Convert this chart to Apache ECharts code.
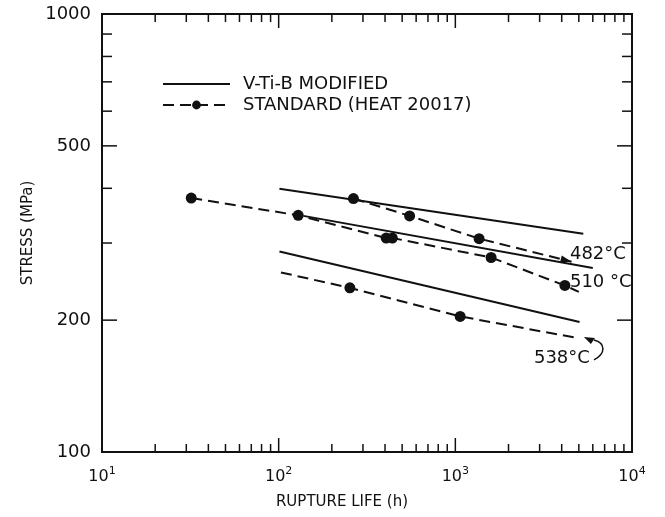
<!DOCTYPE html>
<html lang="en">
<head>
<meta charset="UTF-8">
<title>Stress vs rupture life</title>
<style>
  html, body { margin: 0; padding: 0; background: #fff; }
  #chart { width: 665px; height: 517px; }
</style>
</head>
<body>
<div id="chart"></div>
<script src="https://cdn.jsdelivr.net/npm/echarts@6/dist/echarts.min.js"></script>
<script>
// rupture life (h), stress (MPa)
const mod482 = [[101, 399], [5300, 315]];
const mod510 = [[138, 346], [6000, 263]];
const mod538 = [[101, 287], [5050, 198]];

// standard heat: line ends without a dot are listed in the *Bare arrays
const std482 = [[265, 379], [551, 346], [1363, 307], [4550, 272]];
const std510 = [[32, 380], [129, 347], [406, 308], [440, 308], [1594, 278], [4170, 240], [5000, 232]];
const std538 = [[103, 257], [253, 237], [1065, 204], [4940, 182]];
const std482Bare = [3];
const std510Bare = [6];
const std538Bare = [0, 3];

const tempNames = ['482\u00b0C', '510 \u00b0C', '538\u00b0C'];
const tempAnchors = [[4455, 283], [4455, 244], [2786, 164]];

const xMin = 10, xMax = 10000, yMin = 100, yMax = 1000;
const yLabels = [100, 200, 500, 1000];

const xTicks = [];
for (let k = 10; k < xMax; k *= 10) {
  for (let m = 1; m <= 9; m++) if (m * k > xMin) xTicks.push(m * k);
}
const yTicks = [200, 300, 400, 500, 600, 700, 800, 900];

const FONT = 'DejaVu Sans';
const INK = '#111';

const chart = echarts.init(document.getElementById('chart'), null, { renderer: 'canvas' });

function tickLine(x1, y1, x2, y2) {
  return { type: 'line', shape: { x1, y1, x2, y2 }, style: { stroke: INK, lineWidth: 1.5 } };
}

function renderXTick(params, api) {
  const v = api.value(0);
  const b = api.coord([v, yMin]);
  const t = api.coord([v, yMax]);
  const len = Math.abs(Math.log10(v) - Math.round(Math.log10(v))) < 1e-6 ? 14 : 8;
  return { type: 'group', children: [
    tickLine(b[0], b[1], b[0], b[1] - len),
    tickLine(t[0], t[1], t[0], t[1] + len)
  ] };
}

function renderYTick(params, api) {
  const v = api.value(1);
  const l = api.coord([xMin, v]);
  const r = api.coord([xMax, v]);
  const len = (v === 200 || v === 500) ? 15 : 10;
  return { type: 'group', children: [
    tickLine(l[0], l[1], l[0] + len, l[1]),
    tickLine(r[0], r[1], r[0] - len, r[1])
  ] };
}

function renderYLabel(params, api) {
  const p = api.coord([xMin, api.value(1)]);
  return { type: 'text', style: {
    text: String(api.value(1)), x: p[0] - 11, y: p[1],
    align: 'right', verticalAlign: 'middle', fill: INK, font: '18px "' + FONT + '"'
  } };
}

function renderTemp(params, api) {
  const p = api.coord([api.value(0), api.value(1)]);
  const children = [{ type: 'text', style: {
    text: tempNames[params.dataIndex], x: p[0], y: p[1],
    align: 'left', verticalAlign: 'middle', fill: INK, font: '18px "' + FONT + '"'
  } }];
  if (params.dataIndex === 2) {
    // curved pointer from the 538 label to the end of the dashed line
    const e = api.coord(std538[std538.length - 1]);
    const sx = p[0] + 60, sy = p[1] + 2;
    const tx = e[0] + 6, ty = e[1] - 1;
    children.push({ type: 'bezierCurve', shape: {
      x1: sx, y1: sy, cpx1: sx + 12, cpy1: sy - 6, cpx2: tx + 22, cpy2: ty + 6, x2: tx + 10, y2: ty + 3
    }, style: { stroke: INK, lineWidth: 1.5, fill: null } });
    children.push({ type: 'polygon', shape: { points: [[tx, ty], [tx + 11, ty + 1], [tx + 7, ty + 7]] },
      style: { fill: INK } });
  }
  if (params.dataIndex === 0) {
    const a = api.coord(std482[std482.length - 2]);
    const e = api.coord(std482[std482.length - 1]);
    const ang = Math.atan2(e[1] - a[1], e[0] - a[0]);
    const c = Math.cos(ang), s = Math.sin(ang);
    children.push({ type: 'polygon', shape: { points: [
      [e[0], e[1]],
      [e[0] - 11 * c + 3.5 * s, e[1] - 11 * s - 3.5 * c],
      [e[0] - 11 * c - 3.5 * s, e[1] - 11 * s + 3.5 * c]
    ] }, style: { fill: INK } });
  }
  return { type: 'group', children };
}

function solid(data) {
  return {
    name: 'V-Ti-B MODIFIED', type: 'line', data, symbol: 'none',
    lineStyle: { color: INK, width: 2 }, itemStyle: { color: INK }, z: 3
  };
}

function dashed(data, bare) {
  return {
    name: 'STANDARD (HEAT 20017)', type: 'line', symbol: 'circle', symbolSize: 11,
    data: data.map((d, i) => bare.includes(i) ? { value: d, symbol: 'none' } : d),
    lineStyle: { color: INK, width: 2, type: [11, 6] }, itemStyle: { color: INK }, z: 4
  };
}

const option = {
  animation: false,
  backgroundColor: '#fff',
  textStyle: { fontFamily: FONT, color: INK },
  grid: { left: 102, right: 33, top: 14, bottom: 65, show: true, borderColor: INK, borderWidth: 2 },
  legend: {
    orient: 'vertical', left: 157, top: 70, itemWidth: 67, itemHeight: 11, itemGap: 3,
    data: [
      { name: 'V-Ti-B MODIFIED', itemStyle: { opacity: 0 } },
      { name: 'STANDARD (HEAT 20017)' }
    ],
    textStyle: { fontSize: 18, color: INK, fontFamily: FONT, padding: [0, 0, 0, 8] }
  },
  xAxis: {
    type: 'log', logBase: 10, min: xMin, max: xMax,
    name: 'RUPTURE LIFE (h)', nameLocation: 'middle', nameGap: 43,
    nameTextStyle: { fontSize: 15, color: INK, padding: [0, 50, 0, 0] },
    axisLine: { show: false }, axisTick: { show: false }, splitLine: { show: false },
    axisLabel: {
      margin: 14, color: INK,
      formatter: v => '{b|10}{s|' + Math.round(Math.log10(v)) + '}',
      rich: {
        b: { fontSize: 16, fontFamily: FONT, color: INK },
        s: { fontSize: 11, fontFamily: FONT, color: INK, padding: [0, 0, 10, 0] }
      }
    }
  },
  yAxis: {
    type: 'log', logBase: 10, min: yMin, max: yMax,
    name: 'STRESS (MPa)', nameLocation: 'middle', nameGap: 66,
    nameTextStyle: { fontSize: 15, color: INK },
    axisLine: { show: false }, axisTick: { show: false }, splitLine: { show: false },
    axisLabel: { show: false }
  },
  series: [
    solid(mod482), solid(mod510), solid(mod538),
    dashed(std482, std482Bare), dashed(std510, std510Bare), dashed(std538, std538Bare),
    { type: 'custom', renderItem: renderXTick, data: xTicks.map(v => [v, yMin]), silent: true, z: 1 },
    { type: 'custom', renderItem: renderYTick, data: yTicks.map(v => [xMin, v]), silent: true, z: 1 },
    { type: 'custom', renderItem: renderYLabel, data: yLabels.map(v => [xMin, v]), silent: true, z: 1 },
    { type: 'custom', renderItem: renderTemp, data: tempAnchors, silent: true, z: 5 }
  ]
};

chart.setOption(option);
</script>
</body>
</html>
